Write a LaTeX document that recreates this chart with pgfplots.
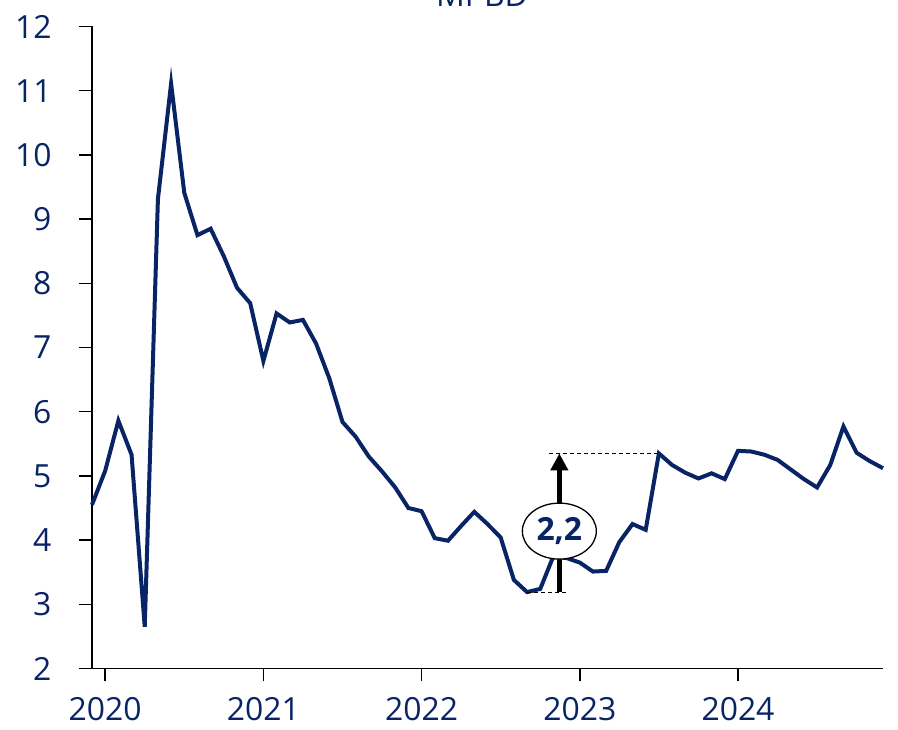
\documentclass[border=0pt]{standalone}
\usepackage{fontspec}
\setmainfont{Open Sans}
\usepackage{pgfplots}
\pgfplotsset{compat=1.18}
\usetikzlibrary{arrows.meta,shapes.geometric}
\definecolor{navy}{RGB}{8,36,100}
\begin{document}
\begin{tikzpicture}
\useasboundingbox (0,0) rectangle (898bp,730bp);
\node[anchor=base, text=navy, font=\fontsize{32}{38}\selectfont] at (482bp,723bp) {MPBD};
\begin{axis}[
  at={(92bp,61.5bp)}, anchor=south west,
  width=791bp, height=642bp, scale only axis,
  xmin=0, xmax=60, ymin=2, ymax=12,
  axis x line*=bottom, axis y line*=left,
  axis line style={line width=1.5bp, -},
  xtick={1,13,25,37,49}, xticklabels={2020,2021,2022,2023,2024},
  ytick={2,3,4,5,6,7,8,9,10,11,12},
  tick align=outside,
  major tick length=13bp,
  tick style={line width=1.5bp, black},
  ticklabel style={font=\fontsize{32}{38}\selectfont, text=navy},
  yticklabel style={xshift=-24bp},
  xticklabel style={yshift=-12bp},
  /pgf/number format/assume math mode=true,
  clip=false,
]
\addplot[navy, line width=4bp, line join=miter] coordinates {
(0,4.55) (1,5.08) (2,5.86) (3,5.33) (4,2.65) (5,9.31) (6,11.11) (7,9.41) (8,8.75) (9,8.85)
(10,8.42) (11,7.93) (12,7.69) (13,6.79) (14,7.53) (15,7.39) (16,7.43) (17,7.06) (18,6.52) (19,5.84)
(20,5.61) (21,5.30) (22,5.07) (23,4.82) (24,4.50) (25,4.45) (26,4.03) (27,3.99) (28,4.22) (29,4.44)
(30,4.25) (31,4.04) (32,3.38) (33,3.19) (34,3.24) (35,3.75) (36,3.72) (37,3.65) (38,3.51) (39,3.52)
(40,3.97) (41,4.25) (42,4.16) (43,5.35) (44,5.17) (45,5.05) (46,4.96) (47,5.04) (48,4.95) (49,5.39)
(50,5.38) (51,5.33) (52,5.25) (53,5.10) (54,4.95) (55,4.82) (56,5.17) (57,5.77) (58,5.36) (59,5.23)
(60,5.12)
};
\draw[black, line width=0.9bp, dash pattern=on 4bp off 3bp] (axis cs:33,3.19) -- (axis cs:36.1,3.19);
\draw[black, line width=0.9bp, dash pattern=on 4bp off 3bp] (axis cs:34.7,5.35) -- (axis cs:43,5.35);
\draw[black, line width=5bp, -{Triangle[width=17bp,length=17bp]}] (axis cs:35.45,3.19) -- (axis cs:35.45,5.35);
\node[ellipse, draw=black, line width=1.3bp, fill=white, minimum width=74bp, minimum height=56bp, inner sep=0pt,
  text=navy, font=\fontsize{32}{38}\selectfont\bfseries] at (axis cs:35.45,4.14) {2,2};
\end{axis}
\end{tikzpicture}
\end{document}
